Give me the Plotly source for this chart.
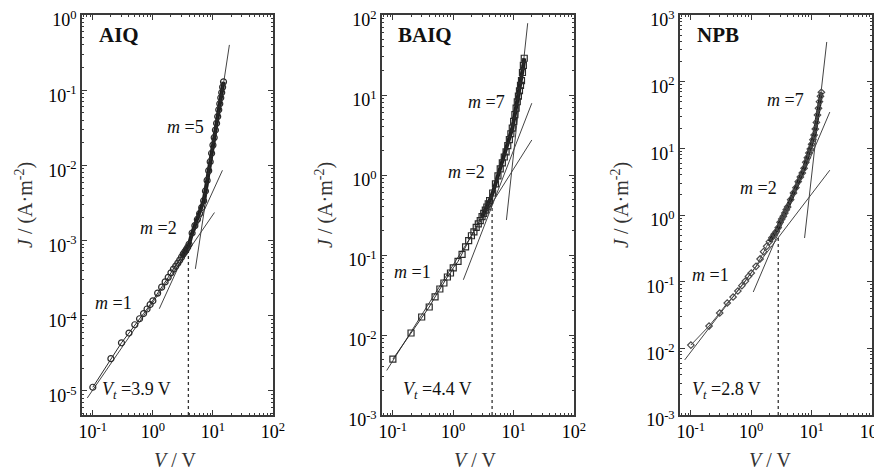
import numpy as np
import plotly.graph_objects as go

# ---------------- data ----------------
V_AIQ = [0.1, 0.2, 0.3, 0.4, 0.5, 0.6, 0.7, 0.8, 0.9, 1.0,
         1.2, 1.4, 1.6, 1.8, 2.0, 2.2, 2.4, 2.6, 2.8, 3.0, 3.2, 3.4, 3.6, 3.8, 4.0,
         4.5, 5.0, 5.5, 6.0, 6.5, 7.0, 7.5, 8.0, 8.5, 9.0, 9.5, 10.0,
         10.5, 11.0, 11.5, 12.0, 12.5, 13.0, 13.5, 14.0, 14.5, 15.0]
J_AIQ = [1.12e-5, 2.69e-5, 4.37e-5, 5.89e-5, 7.59e-5, 9.12e-5, 1.07e-4, 1.23e-4, 1.41e-4, 1.58e-4,
         2.0e-4, 2.4e-4, 2.82e-4, 3.24e-4, 3.72e-4, 4.17e-4, 4.57e-4, 5.01e-4, 5.5e-4, 6.03e-4,
         6.61e-4, 7.08e-4, 7.59e-4, 8.13e-4, 8.91e-4,
         1.26e-3, 1.58e-3, 1.91e-3, 2.29e-3, 2.75e-3, 3.39e-3, 4.57e-3, 6.31e-3, 8.51e-3, 1.12e-2,
         1.45e-2, 1.86e-2, 2.34e-2, 2.95e-2, 3.63e-2, 4.47e-2, 5.5e-2, 6.61e-2, 7.94e-2, 9.33e-2,
         0.110, 0.129]

V_BAIQ = [0.1, 0.2, 0.3, 0.4, 0.5, 0.6, 0.7, 0.8, 0.9, 1.0,
          1.2, 1.4, 1.6, 1.8, 2.0, 2.2, 2.4, 2.6, 2.8, 3.0, 3.2, 3.4, 3.6, 3.8, 4.0,
          4.5, 5.0, 5.5, 6.0, 6.5, 7.0, 7.5, 8.0, 8.5, 9.0, 9.5, 10.0,
          10.5, 11.0, 11.5, 12.0, 12.5, 13.0, 13.5, 14.0, 14.5, 15.0]
J_BAIQ = [5.0e-3, 1.06e-2, 1.68e-2, 2.24e-2, 2.99e-2, 3.76e-2, 4.47e-2, 5.31e-2, 5.96e-2, 6.92e-2,
          8.3e-2, 0.102, 0.126, 0.151, 0.174, 0.195, 0.221, 0.245, 0.269, 0.302, 0.331, 0.363,
          0.398, 0.437, 0.479,
          0.596, 0.776, 0.977, 1.19, 1.42, 1.68, 1.95, 2.33, 2.77, 3.28, 3.85, 4.67,
          5.68, 6.84, 8.24, 9.68, 11.3, 13.2, 15.1, 19.1, 23.4, 28.8]

V_NPB = [0.1, 0.2, 0.3, 0.4, 0.5, 0.6, 0.7, 0.8, 0.9, 1.0,
         1.2, 1.4, 1.6, 1.8, 2.0, 2.2, 2.4, 2.6, 2.8, 3.0, 3.2, 3.4, 3.6, 3.8, 4.0,
         4.5, 5.0, 5.5, 6.0, 6.5, 7.0, 7.5, 8.0, 8.5, 9.0, 9.5, 10.0,
         10.5, 11.0, 11.5, 12.0, 12.5, 13.0, 13.5, 14.0, 14.5]
J_NPB = [1.12e-2, 2.16e-2, 3.39e-2, 4.79e-2, 5.89e-2, 7.24e-2, 8.71e-2, 0.102, 0.120, 0.135,
         0.170, 0.219, 0.282, 0.339, 0.398, 0.457, 0.513, 0.562, 0.646, 0.776, 0.871, 0.955,
         1.07, 1.20, 1.32,
         1.70, 2.14, 2.57, 3.16, 3.72, 4.27, 5.01, 6.17, 7.24, 8.51, 9.77, 11.5,
         13.5, 15.8, 19.5, 24.5, 31.6, 39.8, 50.1, 60.3, 69.2]

# fitted power-law lines (end points)
FIT_AIQ_V = [[0.081, 10.6], [1.28, 14.4], [5.1, 18.8]]
FIT_AIQ_J = [[8.07e-6, 2.36e-3], [1.24e-4, 8.6e-3], [4.2e-4, 0.40]]
FIT_BAIQ_V = [[0.079, 20.0], [1.47, 20.0], [7.6, 17.1]]
FIT_BAIQ_J = [[3.6e-3, 2.74], [4.9e-2, 7.9], [0.274, 79.0]]
FIT_NPB_V = [[0.079, 20.0], [1.08, 20.0], [7.64, 17.8]]
FIT_NPB_J = [[6.7e-3, 4.7], [7.0e-2, 35.0], [0.452, 394.0]]

VT = [3.9, 4.4, 2.8]
JT = [7.9e-4, 0.40, 0.47]
VT_TEXT = ["3.9", "4.4", "2.8"]
NAMES = ["AIQ", "BAIQ", "NPB"]
SLOPES = [["1", "2", "5"], ["1", "2", "7"], ["1", "2", "7"]]
BAND_FROM = [3.0, 3.0, 2.0]   # voltage above which the measured points merge into a dense band

X_TICKS = [0.1, 1, 10, 100]
X_TICKTEXT = ["10<sup>-1</sup>", "10<sup>0</sup>", "10<sup>1</sup>", "10<sup>2</sup>"]
Y_EXP = [list(range(-5, 1)), list(range(-3, 3)), list(range(-3, 4))]

# ---------------- layout geometry (reference pixels) ----------------
PAGE_W, PAGE_H = 882, 471
OFF = 8                      # browser body margin
W, H = PAGE_W - OFF, PAGE_H - OFF
X_DOMAINS = [(82, 273), (382, 574), (680, 872)]
Y_DOMAIN = (15, 415)
X_RANGE = [-1.18, 2.0]
Y_RANGES = [[-5.32, 0], [-3, 2], [-3, 3]]


def px(x):
    return (x - OFF) / W


def py(y):
    return 1 - (y - OFF) / H


FONT = "Liberation Serif, Times New Roman, Times, serif"
INK = "#3a3a3a"

fig = go.Figure()

series = [(V_AIQ, J_AIQ, "circle-open", 6, "#2a2a2a"),
          (V_BAIQ, J_BAIQ, "square-open", 6, "#2a2a2a"),
          (V_NPB, J_NPB, "diamond-open", 5, "#4a4a4a")]
fitsV = [FIT_AIQ_V, FIT_BAIQ_V, FIT_NPB_V]
fitsJ = [FIT_AIQ_J, FIT_BAIQ_J, FIT_NPB_J]

for i in range(3):
    xa = "x" if i == 0 else f"x{i+1}"
    ya = "y" if i == 0 else f"y{i+1}"
    for fv, fj in zip(fitsV[i], fitsJ[i]):
        fig.add_trace(go.Scatter(x=fv, y=fj, mode="lines", xaxis=xa, yaxis=ya,
                                 line=dict(color="#444444", width=1), showlegend=False,
                                 hoverinfo="skip"))
    fig.add_trace(go.Scatter(x=[VT[i], VT[i]], y=[10 ** Y_RANGES[i][0], JT[i]],
                             mode="lines", xaxis=xa, yaxis=ya,
                             line=dict(color="#333333", width=1.3, dash="dot"),
                             showlegend=False, hoverinfo="skip"))
    v, j, sym, sz, col = series[i]
    bv = [a for a in v if a >= BAND_FROM[i]]
    bj = [b for a, b in zip(v, j) if a >= BAND_FROM[i]]
    fig.add_trace(go.Scatter(x=bv, y=bj, mode="lines", xaxis=xa, yaxis=ya,
                             line=dict(color="#1e1e1e", width=4), showlegend=False,
                             hoverinfo="skip"))
    fig.add_trace(go.Scatter(x=v, y=j, mode="lines+markers", xaxis=xa, yaxis=ya,
                             line=dict(color=col, width=1),
                             marker=dict(symbol=sym, size=sz, color=col,
                                         line=dict(width=1.2, color=col)),
                             showlegend=False))


def minor_vals(lo, hi):
    out = []
    for e in range(lo, hi):
        for k in range(2, 10):
            out.append(k * 10.0 ** e)
    return out


common = dict(type="log", showline=True, linecolor=INK, linewidth=1.5, mirror="ticks",
              ticks="inside", ticklen=5, tickwidth=1, tickcolor=INK,
              showgrid=False, zeroline=False, ticklabeloverflow="allow",
              tickfont=dict(family=FONT, size=18, color="black"))

layout = {}
for i in range(3):
    xk = "xaxis" if i == 0 else f"xaxis{i+1}"
    yk = "yaxis" if i == 0 else f"yaxis{i+1}"
    xd = X_DOMAINS[i]
    layout[xk] = dict(common, domain=[px(xd[0]), px(xd[1])], range=X_RANGE,
                      anchor="y" if i == 0 else f"y{i+1}",
                      tickvals=X_TICKS, ticktext=X_TICKTEXT,
                      minor=dict(ticks="inside", ticklen=2.5, tickcolor=INK,
                                 tickvals=minor_vals(-2, 2)))
    exps = Y_EXP[i]
    layout[yk] = dict(common, domain=[py(Y_DOMAIN[1]), py(Y_DOMAIN[0])],
                      range=Y_RANGES[i], anchor="x" if i == 0 else f"x{i+1}",
                      ticklabelshift=5,
                      tickvals=[10.0 ** e for e in exps],
                      ticktext=[f"10<sup>{e}</sup>" for e in exps],
                      minor=dict(ticks="inside", ticklen=2.5, tickcolor=INK,
                                 tickvals=minor_vals(exps[0] - 1, exps[-1] + 1)))

ann = []
# in-plot labels: (log10 V, log10 J) positions, left anchored
label_pos = [
    dict(name=(-0.925, -0.27), m=[(-0.99, -3.83), (-0.242, -2.83), (0.208, -1.49)], vt=(-0.875, -4.99)),
    dict(name=(-0.95, 1.75), m=[(-1.02, -1.21), (-0.117, 0.04), (0.217, 0.91)], vt=(-0.867, -2.69)),
    dict(name=(-0.933, 2.70), m=[(-1.017, -0.90), (-0.217, 0.405), (0.233, 1.725)], vt=(-1.017, -2.625)),
]
for i in range(3):
    xr = "x" if i == 0 else f"x{i+1}"
    yr = "y" if i == 0 else f"y{i+1}"
    p = label_pos[i]
    ann.append(dict(x=p["name"][0], y=p["name"][1], xref=xr, yref=yr, text=f"<b>{NAMES[i]}</b>",
                    showarrow=False, xanchor="left", yanchor="middle",
                    font=dict(family=FONT, size=21, color="#111")))
    for (lx, ly), s in zip(p["m"], SLOPES[i]):
        ann.append(dict(x=lx, y=ly, xref=xr, yref=yr, text=f"<i>m</i> ={s}",
                        showarrow=False, xanchor="left", yanchor="middle",
                        font=dict(family=FONT, size=18, color="#111")))
    ann.append(dict(x=p["vt"][0], y=p["vt"][1], xref=xr, yref=yr,
                    text=f"<i>V<sub>t</sub></i> ={VT_TEXT[i]} V",
                    showarrow=False, xanchor="left", yanchor="middle",
                    font=dict(family=FONT, size=18, color="#111")))

# axis titles (reference pixel centres)
ytitle_x = [25, 325, 621]
xtitle_x = [175, 475, 770]
for i in range(3):
    ann.append(dict(x=px(ytitle_x[i]), y=py(205), xref="paper", yref="paper",
                    text="<i>J</i> / (A·m<sup>-2</sup>)", textangle=-90, showarrow=False,
                    xanchor="center", yanchor="middle",
                    font=dict(family=FONT, size=20, color="#333")))
    ann.append(dict(x=px(xtitle_x[i]), y=py(460), xref="paper", yref="paper",
                    text="<i>V</i> / V", showarrow=False, xanchor="center", yanchor="middle",
                    font=dict(family=FONT, size=20, color="#333")))

fig.update_layout(width=W, height=H, template="none",
                  margin=dict(l=0, r=0, t=0, b=0),
                  paper_bgcolor="white", plot_bgcolor="white",
                  showlegend=False, annotations=ann, **layout)

fig.write_html("out.html")
